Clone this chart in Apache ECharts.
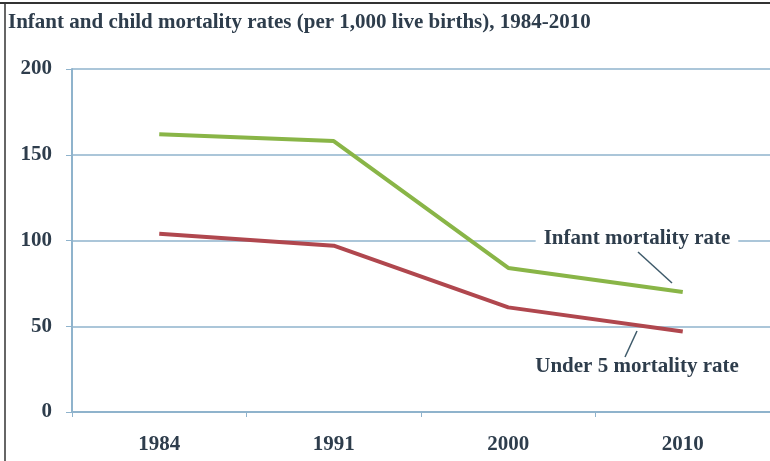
<!DOCTYPE html>
<html>
<head>
<meta charset="utf-8">
<style>
  html, body { margin: 0; padding: 0; background: #fff; }
  #chart { width: 770px; height: 461px; }
</style>
<script src="https://cdn.jsdelivr.net/npm/echarts@6/dist/echarts.min.js"></script>
</head>
<body>
<div id="chart"></div>
<script>
// data
const years = ['1984', '1991', '2000', '2010'];
const infantRate = [162, 158, 84, 70];   // green line
const under5Rate = [104, 97, 61, 47];    // red line
const yTicks = [0, 50, 100, 150, 200];

const axisColor = '#8fb3cc';
const textColor = '#2e3d4c';
const serif = '"Liberation Serif", "DejaVu Serif", serif';
const font = 'bold 21px ' + serif;

const myChart = echarts.init(document.getElementById('chart'));

const option = {
  animation: false,
  backgroundColor: '#fff',
  grid: { left: 72, right: 0, top: 69, bottom: 49 },
  xAxis: {
    type: 'category',
    data: years,
    boundaryGap: true,
    axisLine: { lineStyle: { color: axisColor, width: 2 } },
    axisTick: { show: true, length: 5, lineStyle: { color: axisColor, width: 1 } },
    axisLabel: { color: textColor, fontFamily: serif, fontSize: 21, fontWeight: 'bold', margin: 22 }
  },
  yAxis: {
    type: 'value',
    min: yTicks[0],
    max: yTicks[yTicks.length - 1],
    interval: 50,
    axisLine: { show: true, lineStyle: { color: axisColor, width: 2 } },
    axisTick: { show: true, length: 6, lineStyle: { color: axisColor, width: 1 } },
    axisLabel: { color: textColor, fontFamily: serif, fontSize: 21, fontWeight: 'bold', margin: 20 },
    splitLine: { lineStyle: { color: axisColor, width: 1.5 } }
  },
  series: [
    {
      name: 'Infant mortality rate',
      type: 'line',
      data: infantRate,
      symbol: 'none',
      lineStyle: { color: '#89b547', width: 4 },
      z: 3
    },
    {
      name: 'Under 5 mortality rate',
      type: 'line',
      data: under5Rate,
      symbol: 'none',
      lineStyle: { color: '#b0474e', width: 4 },
      z: 3
    }
  ],
  graphic: [
    // frame
    { type: 'line', shape: { x1: 0, y1: 3, x2: 770, y2: 3 }, style: { stroke: '#333', lineWidth: 2 } },
    { type: 'line', shape: { x1: 5, y1: 3, x2: 5, y2: 461 }, style: { stroke: '#333', lineWidth: 1.5 } },
    {
      type: 'text', left: 8, top: 12,
      style: {
        text: 'Infant and child mortality rates (per 1,000 live births), 1984-2010',
        fill: textColor, font: font
      }
    },
    // callouts
    {
      type: 'text', x: 637, y: 239, z: 10,
      style: {
        text: 'Infant mortality rate', fill: textColor, font: font,
        align: 'center', verticalAlign: 'middle',
        backgroundColor: '#fff', padding: [2, 8]
      }
    },
    { type: 'line', z: 10, shape: { x1: 638, y1: 252, x2: 672, y2: 283 }, style: { stroke: '#3e5a6a', lineWidth: 1.5 } },
    {
      type: 'text', x: 637, y: 367, z: 10,
      style: {
        text: 'Under 5 mortality rate', fill: textColor, font: font,
        align: 'center', verticalAlign: 'middle',
        backgroundColor: '#fff', padding: [2, 6]
      }
    },
    { type: 'line', z: 10, shape: { x1: 637, y1: 331, x2: 625, y2: 357 }, style: { stroke: '#3e5a6a', lineWidth: 1.5 } }
  ]
};

myChart.setOption(option);
</script>
</body>
</html>
